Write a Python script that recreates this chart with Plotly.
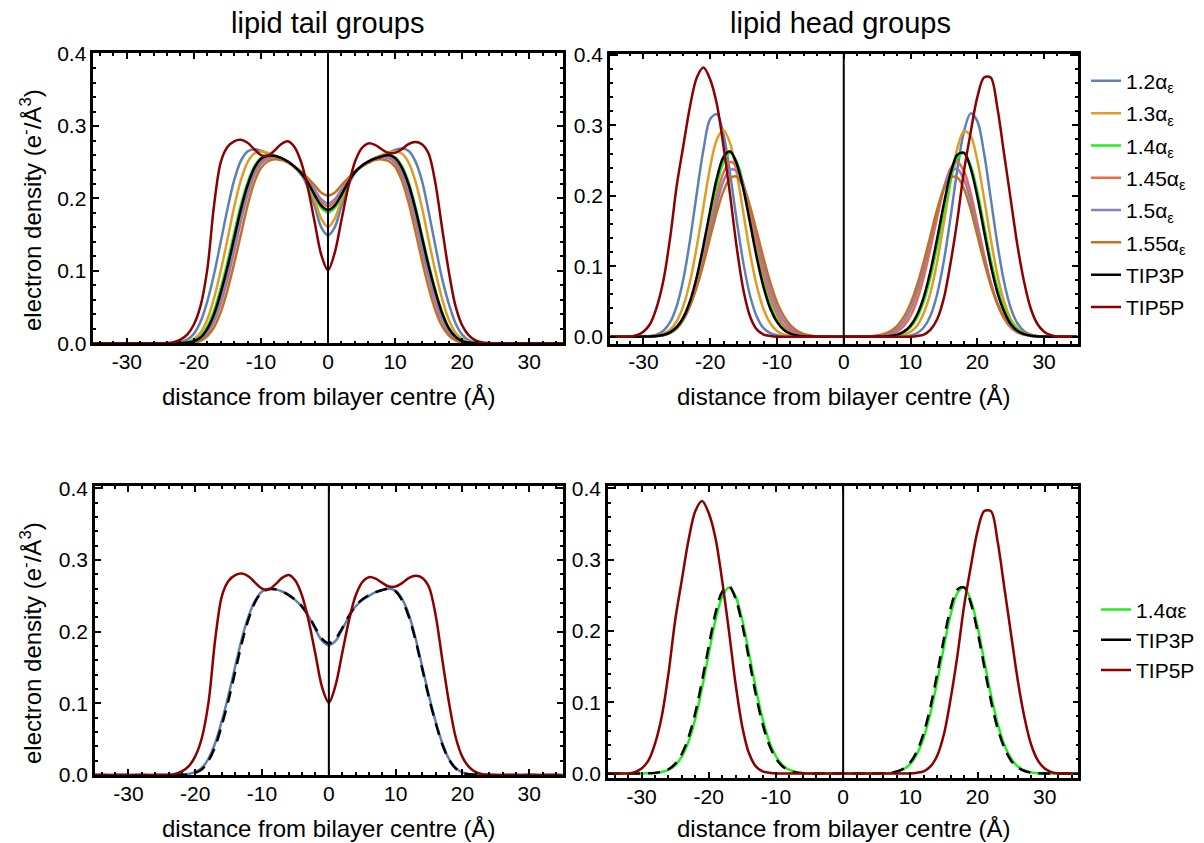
import plotly.graph_objects as go

# ---------------- data ----------------
TAIL_X = [-35] + list(range(-26, 27)) + [35]
HEAD_X = list(range(-35, 36))

SERIES = ["1.2αε", "1.3αε", "1.4αε", "1.45αε", "1.5αε", "1.55αε", "TIP3P", "TIP5P"]
LEGEND_TEXT = ["1.2α<sub>ε</sub>", "1.3α<sub>ε</sub>", "1.4α<sub>ε</sub>", "1.45α<sub>ε</sub>",
               "1.5α<sub>ε</sub>", "1.55α<sub>ε</sub>", "TIP3P", "TIP5P"]

tail_12 = [0, 0, 0, 0, 0.0005, 0.0015, 0.005, 0.013, 0.030, 0.058, 0.095, 0.140, 0.185, 0.225, 0.252, 0.265,
           0.268, 0.266, 0.262, 0.258, 0.255, 0.250, 0.243, 0.233, 0.216, 0.190, 0.160, 0.149, 0.160, 0.190,
           0.217, 0.235, 0.245, 0.251, 0.256, 0.259, 0.263, 0.267, 0.269, 0.266, 0.252, 0.225, 0.182, 0.135,
           0.090, 0.055, 0.028, 0.012, 0.004, 0.0012, 0.0003, 0, 0, 0, 0]
tail_13 = [0, 0, 0, 0, 0, 0.0005, 0.002, 0.006, 0.015, 0.033, 0.062, 0.100, 0.143, 0.188, 0.225, 0.250,
           0.262, 0.265, 0.263, 0.259, 0.255, 0.250, 0.243, 0.234, 0.219, 0.198, 0.172, 0.161, 0.172, 0.198,
           0.220, 0.236, 0.245, 0.251, 0.256, 0.260, 0.263, 0.265, 0.262, 0.250, 0.225, 0.188, 0.143, 0.100,
           0.062, 0.033, 0.015, 0.006, 0.002, 0.0005, 0, 0, 0, 0, 0]
tail_14 = [0, 0, 0, 0, 0.0001, 0.0004, 0.0015, 0.004, 0.010, 0.023, 0.045, 0.076, 0.112, 0.152, 0.191, 0.222,
           0.244, 0.256, 0.260, 0.259, 0.256, 0.251, 0.244, 0.234, 0.221, 0.203, 0.187, 0.181, 0.187, 0.203,
           0.221, 0.235, 0.244, 0.250, 0.255, 0.258, 0.260, 0.257, 0.245, 0.223, 0.190, 0.150, 0.110, 0.074,
           0.044, 0.022, 0.010, 0.0035, 0.001, 0.0003, 0, 0, 0, 0, 0]
tail_145 = [0, 0, 0, 0, 0, 0.0002, 0.0008, 0.0025, 0.007, 0.017, 0.035, 0.062, 0.096, 0.136, 0.177, 0.212,
            0.237, 0.251, 0.257, 0.258, 0.256, 0.251, 0.244, 0.235, 0.223, 0.208, 0.195, 0.189, 0.195, 0.208,
            0.224, 0.236, 0.245, 0.251, 0.255, 0.257, 0.258, 0.252, 0.238, 0.214, 0.180, 0.139, 0.099, 0.064,
            0.037, 0.018, 0.0075, 0.0027, 0.0008, 0.0002, 0, 0, 0, 0, 0]
tail_15 = [0, 0, 0, 0, 0, 0.0002, 0.0006, 0.002, 0.0055, 0.014, 0.030, 0.055, 0.088, 0.127, 0.168, 0.205,
           0.232, 0.248, 0.255, 0.257, 0.255, 0.251, 0.244, 0.236, 0.225, 0.212, 0.199, 0.193, 0.199, 0.212,
           0.225, 0.237, 0.245, 0.251, 0.255, 0.257, 0.256, 0.249, 0.233, 0.207, 0.171, 0.130, 0.091, 0.057,
           0.032, 0.015, 0.006, 0.002, 0.0006, 0.0002, 0, 0, 0, 0, 0]
tail_155 = [0, 0, 0, 0, 0, 0.0001, 0.0003, 0.001, 0.0035, 0.010, 0.022, 0.043, 0.073, 0.110, 0.150, 0.190,
            0.222, 0.242, 0.251, 0.254, 0.253, 0.250, 0.244, 0.237, 0.228, 0.218, 0.208, 0.204, 0.208, 0.218,
            0.228, 0.237, 0.244, 0.249, 0.253, 0.254, 0.252, 0.244, 0.225, 0.195, 0.156, 0.115, 0.077, 0.046,
            0.024, 0.011, 0.004, 0.0012, 0.0003, 0.0001, 0, 0, 0, 0, 0]
tail_tip3p = [0, 0, 0, 0, 0, 0.0003, 0.001, 0.003, 0.008, 0.020, 0.040, 0.070, 0.105, 0.145, 0.185, 0.218,
              0.242, 0.255, 0.259, 0.259, 0.256, 0.251, 0.244, 0.235, 0.222, 0.205, 0.190, 0.184, 0.190, 0.205,
              0.222, 0.236, 0.245, 0.251, 0.255, 0.258, 0.260, 0.256, 0.243, 0.220, 0.187, 0.147, 0.107, 0.072,
              0.042, 0.021, 0.009, 0.003, 0.001, 0.0003, 0, 0, 0, 0, 0]
tail_tip5p = [0, 0, 0, 0.0003, 0.0015, 0.005, 0.012, 0.026, 0.052, 0.102, 0.190, 0.250, 0.271, 0.279, 0.281,
              0.277, 0.268, 0.260, 0.259, 0.266, 0.275, 0.279, 0.271, 0.250, 0.214, 0.168, 0.122, 0.101, 0.125,
              0.170, 0.215, 0.250, 0.269, 0.276, 0.274, 0.268, 0.263, 0.263, 0.268, 0.275, 0.278, 0.275, 0.262,
              0.222, 0.160, 0.100, 0.052, 0.025, 0.011, 0.004, 0.0012, 0.0003, 0, 0, 0]

head_12 = [0, 0, 0, 0, 0, 0.0003, 0.001, 0.003, 0.0085, 0.0205, 0.0437, 0.0825, 0.138, 0.204, 0.266, 0.309,
           0.316, 0.287, 0.230, 0.163, 0.103, 0.057, 0.028, 0.012, 0.005, 0.002, 0.0007, 0.0002,
           0, 0, 0, 0, 0, 0, 0, 0, 0, 0, 0, 0, 0, 0, 0,
           0.0002, 0.0006, 0.0018, 0.0052, 0.0134, 0.030, 0.061, 0.108, 0.170, 0.237, 0.291, 0.317, 0.306,
           0.261, 0.197, 0.132, 0.078, 0.041, 0.019, 0.0077, 0.0028, 0.0009, 0.0003, 0, 0, 0, 0, 0]
head_13 = [0, 0, 0, 0, 0, 0.0002, 0.0005, 0.0014, 0.004, 0.0098, 0.022, 0.044, 0.079, 0.128, 0.185, 0.241,
           0.280, 0.293, 0.274, 0.231, 0.174, 0.117, 0.071, 0.039, 0.019, 0.008, 0.003, 0.001, 0.0003,
           0, 0, 0, 0, 0, 0, 0, 0, 0, 0, 0, 0, 0,
           0.0003, 0.0009, 0.0026, 0.0069, 0.016, 0.034, 0.063, 0.107, 0.162, 0.220, 0.267, 0.292, 0.285,
           0.250, 0.197, 0.139, 0.088, 0.050, 0.025, 0.0116, 0.0048, 0.0018, 0.0006, 0.0002, 0, 0, 0, 0, 0]
head_14 = [0, 0, 0, 0, 0, 0, 0.0002, 0.0007, 0.002, 0.005, 0.0115, 0.024, 0.045, 0.077, 0.120, 0.168,
           0.215, 0.248, 0.261, 0.248, 0.215, 0.168, 0.120, 0.077, 0.045, 0.024, 0.0115, 0.005, 0.002,
           0.0007, 0.0002,
           0, 0, 0, 0, 0, 0, 0, 0, 0,
           0.0001, 0.0003, 0.0009, 0.0024, 0.006, 0.0134, 0.0275, 0.0507, 0.0849, 0.129, 0.178, 0.223, 0.253,
           0.261, 0.243, 0.206, 0.158, 0.110, 0.070, 0.040, 0.021, 0.0098, 0.0042, 0.0016, 0.0005, 0.0001,
           0, 0, 0, 0, 0]
head_145 = [0, 0, 0, 0, 0, 0.0001, 0.0003, 0.0009, 0.0024, 0.0057, 0.0124, 0.0246, 0.0448, 0.074, 0.113,
            0.157, 0.200, 0.233, 0.248, 0.241, 0.215, 0.175, 0.130, 0.089, 0.055, 0.032, 0.016, 0.0078,
            0.0034, 0.0013, 0.0005, 0.0001,
            0, 0, 0, 0, 0, 0, 0,
            0.0001, 0.0004, 0.0012, 0.0031, 0.0072, 0.0153, 0.0296, 0.0524, 0.085, 0.126, 0.170, 0.211, 0.239,
            0.248, 0.235, 0.204, 0.161, 0.117, 0.078, 0.047, 0.026, 0.013, 0.0061, 0.0026, 0.001, 0.0004,
            0.0001, 0, 0, 0, 0, 0]
head_15 = [0, 0, 0, 0, 0, 0.0001, 0.0004, 0.0012, 0.0029, 0.0065, 0.0134, 0.0255, 0.045, 0.073, 0.108,
           0.149, 0.189, 0.221, 0.237, 0.235, 0.215, 0.181, 0.141, 0.101, 0.066, 0.040, 0.0226, 0.0117,
           0.0056, 0.0024, 0.001, 0.0004, 0.0001,
           0, 0, 0, 0, 0,
           0.0001, 0.0003, 0.0009, 0.0022, 0.0051, 0.0109, 0.0213, 0.0383, 0.0635, 0.097, 0.137, 0.178, 0.212,
           0.234, 0.238, 0.223, 0.193, 0.153, 0.112, 0.076, 0.047, 0.027, 0.0144, 0.007, 0.0032, 0.0013,
           0.0005, 0.0002, 0, 0, 0, 0, 0]
head_155 = [0, 0, 0, 0, 0.0001, 0.0002, 0.0006, 0.0015, 0.0034, 0.0073, 0.0144, 0.0263, 0.0447, 0.0707,
            0.1035, 0.141, 0.177, 0.207, 0.225, 0.227, 0.212, 0.184, 0.148, 0.111, 0.077, 0.049, 0.0296,
            0.0164, 0.0084, 0.004, 0.0018, 0.0007, 0.0003, 0.0001,
            0, 0, 0,
            0.0001, 0.0003, 0.0007, 0.0016, 0.0037, 0.0078, 0.0153, 0.0279, 0.047, 0.0737, 0.107, 0.144, 0.181,
            0.210, 0.226, 0.226, 0.210, 0.181, 0.144, 0.107, 0.0737, 0.047, 0.0279, 0.0153, 0.0078, 0.0037,
            0.0016, 0.0007, 0.0003, 0.0001, 0, 0, 0, 0]
head_tip3p = [0, 0, 0, 0, 0, 0.0001, 0.0003, 0.0009, 0.0024, 0.006, 0.0135, 0.0277, 0.051, 0.0855, 0.130,
              0.179, 0.225, 0.255, 0.263, 0.245, 0.208, 0.160, 0.111, 0.070, 0.040, 0.021, 0.0099, 0.0042,
              0.0016, 0.0005, 0.0001,
              0, 0, 0, 0, 0, 0, 0, 0, 0,
              0.0001, 0.0004, 0.0011, 0.0029, 0.0071, 0.0157, 0.0315, 0.057, 0.094, 0.140, 0.189, 0.232, 0.258,
              0.261, 0.239, 0.199, 0.150, 0.102, 0.063, 0.036, 0.018, 0.0084, 0.0035, 0.0013, 0.0004, 0.0001,
              0, 0, 0, 0, 0]
head_tip5p = [0, 0, 0, 0, 0.002, 0.007, 0.018, 0.042, 0.080, 0.140, 0.215, 0.272, 0.328, 0.368, 0.382,
              0.365, 0.330, 0.270, 0.200, 0.125, 0.065, 0.028, 0.010, 0.003, 0.001,
              0, 0, 0, 0, 0, 0, 0, 0, 0, 0, 0, 0, 0, 0, 0, 0, 0, 0, 0, 0, 0,
              0.001, 0.003, 0.010, 0.025, 0.055, 0.105, 0.165, 0.235, 0.290, 0.340, 0.368, 0.368, 0.325,
              0.260, 0.195, 0.130, 0.078, 0.040, 0.018, 0.007, 0.002, 0, 0, 0, 0]

TAILS = [tail_12, tail_13, tail_14, tail_145, tail_15, tail_155, tail_tip3p, tail_tip5p]
HEADS = [head_12, head_13, head_14, head_145, head_15, head_155, head_tip3p, head_tip5p]
for arr in TAILS:
    assert len(arr) == len(TAIL_X), len(arr)
for arr in HEADS:
    assert len(arr) == len(HEAD_X), len(arr)

X_TICKS = [-30, -20, -10, 0, 10, 20, 30]
X_TICK_LABELS = ["-30", "-20", "-10", "0", "10", "20", "30"]
Y_TICKS = [0.0, 0.1, 0.2, 0.3, 0.4]
Y_TICK_LABELS = ["0.0", "0.1", "0.2", "0.3", "0.4"]

COLORS = ["#5E81B5", "#E19C24", "#1EF01E", "#EE6A43", "#8F7EBF", "#C5701E", "#000000", "#8B0000"]

# ---------------- figure ----------------
# the page body adds an 8px offset, so the figure is drawn 8px smaller and all
# reference-pixel positions are shifted by OFF
OFF = 8
W, H = 1204 - OFF, 843 - OFF
FONT = "Liberation Sans, Arial, Helvetica, sans-serif"
LW = 2.5


def fx(p):
    return (p - OFF) / W


def fy(p):
    return 1 - (p - OFF) / H


def dx(a, b):
    return [fx(a), fx(b)]


def dy(top, bottom):
    return [fy(bottom), fy(top)]


fig = go.Figure()

# top-left: tails
for i in range(8):
    fig.add_trace(go.Scatter(x=TAIL_X, y=TAILS[i], mode="lines", name=SERIES[i], showlegend=False,
                             line=dict(color=COLORS[i], width=LW, shape="spline", smoothing=0.9),
                             xaxis="x", yaxis="y", hoverinfo="skip"))
# top-right: heads (with legend)
for i in range(8):
    fig.add_trace(go.Scatter(x=HEAD_X, y=HEADS[i], mode="lines", name=LEGEND_TEXT[i], showlegend=True,
                             legend="legend", legendgroup="g%d" % i,
                             line=dict(color=COLORS[i], width=LW, shape="spline", smoothing=0.9),
                             xaxis="x2", yaxis="y2", hoverinfo="skip"))

# bottom-left
fig.add_trace(go.Scatter(x=TAIL_X, y=tail_14, mode="lines", showlegend=False,
                         line=dict(color=COLORS[0], width=LW, shape="spline", smoothing=0.9),
                         xaxis="x3", yaxis="y3", hoverinfo="skip"))
fig.add_trace(go.Scatter(x=TAIL_X, y=tail_tip3p, mode="lines", showlegend=False,
                         line=dict(color="black", width=LW, shape="spline", smoothing=0.9, dash="12px,8px"),
                         xaxis="x3", yaxis="y3", hoverinfo="skip"))
fig.add_trace(go.Scatter(x=TAIL_X, y=tail_tip5p, mode="lines", showlegend=False,
                         line=dict(color=COLORS[7], width=LW, shape="spline", smoothing=0.9),
                         xaxis="x3", yaxis="y3", hoverinfo="skip"))
# bottom-right
fig.add_trace(go.Scatter(x=HEAD_X, y=head_14, mode="lines", showlegend=False,
                         line=dict(color=COLORS[2], width=LW, shape="spline", smoothing=0.9),
                         xaxis="x4", yaxis="y4", hoverinfo="skip"))
fig.add_trace(go.Scatter(x=HEAD_X, y=head_tip3p, mode="lines", showlegend=False,
                         line=dict(color="black", width=LW, shape="spline", smoothing=0.9, dash="12px,8px"),
                         xaxis="x4", yaxis="y4", hoverinfo="skip"))
fig.add_trace(go.Scatter(x=HEAD_X, y=head_tip5p, mode="lines", showlegend=False,
                         line=dict(color=COLORS[7], width=LW, shape="spline", smoothing=0.9),
                         xaxis="x4", yaxis="y4", hoverinfo="skip"))
# legend-only entries for the lower legend
for name, col, g in [("1.4αε", COLORS[2], "b0"), ("TIP3P", "black", "b1"), ("TIP5P", COLORS[7], "b2")]:
    fig.add_trace(go.Scatter(x=[None], y=[None], mode="lines", name=name, legend="legend2", legendgroup=g,
                             line=dict(color=col, width=LW), xaxis="x4", yaxis="y4"))

tickfont = dict(family=FONT, size=21, color="black")


def xax(domain, anchor):
    return dict(domain=domain, anchor=anchor, range=[-35, 35], tickmode="array", tickvals=X_TICKS,
                ticktext=X_TICK_LABELS, showline=True, linecolor="black", linewidth=2.5, mirror="allticks",
                ticks="inside", ticklen=6, tickwidth=2, tickcolor="black", showgrid=False, zeroline=False,
                tickfont=tickfont, ticklabelstandoff=-2,
                minor=dict(tick0=0, dtick=2, ticks="inside", ticklen=3, tickwidth=2, tickcolor="black",
                           showgrid=False))


def yax(domain, anchor, rng):
    return dict(domain=domain, anchor=anchor, range=rng, tickmode="array", tickvals=Y_TICKS,
                ticktext=Y_TICK_LABELS, showline=True, linecolor="black", linewidth=2.5, mirror="allticks",
                ticks="inside", ticklen=6, tickwidth=2, tickcolor="black", showgrid=False, zeroline=False,
                tickfont=tickfont, ticklabelstandoff=0,
                minor=dict(tick0=0, dtick=0.02, ticks="inside", ticklen=3, tickwidth=2, tickcolor="black",
                           showgrid=False))


fig.update_layout(
    width=W, height=H, margin=dict(l=0, r=0, t=0, b=0, autoexpand=False),
    paper_bgcolor="white", plot_bgcolor="white",
    font=dict(family=FONT, color="black"),
    xaxis=xax(dx(93.3, 562.7), "y"), yaxis=yax(dy(53.3, 343.3), "x", [0, 0.4005]),
    xaxis2=xax(dx(610, 1077.5), "y2"), yaxis2=yax(dy(53.5, 343.5), "x2", [-0.0097, 0.402]),
    xaxis3=xax(dx(95, 562.7), "y3"), yaxis3=yax(dy(486, 775), "x3", [0, 0.4032]),
    xaxis4=xax(dx(608, 1078.3), "y4"), yaxis4=yax(dy(486, 778), "x4", [-0.0063, 0.4032]),
    legend=dict(x=1078 / W, xanchor="left", y=1 - 52.7 / H, yanchor="top", font=dict(family=FONT, size=21),
                bgcolor="rgba(0,0,0,0)", tracegroupgap=2, traceorder="grouped"),
    legend2=dict(x=1088 / W, xanchor="left", y=1 - 581.3 / H, yanchor="top", font=dict(family=FONT, size=21),
                 bgcolor="rgba(0,0,0,0)", tracegroupgap=0, traceorder="grouped"),
    showlegend=True,
)

# vertical line at x = 0 in every panel
for xr, yr in [("x", "y"), ("x2", "y2"), ("x3", "y3"), ("x4", "y4")]:
    fig.add_shape(type="line", xref=xr, yref=yr + " domain", x0=0, x1=0, y0=0, y1=1,
                  line=dict(color="black", width=2), layer="above")

ann = []
for txt, cx in [("lipid tail groups", 327), ("lipid head groups", 840)]:
    ann.append(dict(text=txt, x=fx(cx), y=fy(23), xref="paper", yref="paper", showarrow=False,
                    xanchor="center", yanchor="middle", font=dict(family=FONT, size=29, color="black")))
for cx, cy in [(328, 396), (843.7, 396), (328.8, 828), (843, 828)]:
    ann.append(dict(text="distance from bilayer centre (Å)", x=fx(cx), y=fy(cy), xref="paper",
                    yref="paper", showarrow=False, xanchor="center", yanchor="middle",
                    font=dict(family=FONT, size=24, color="black")))
for cy in [210, 643]:
    ann.append(dict(text="electron density (e<sup>-</sup>/Å<sup>3</sup>)", x=fx(31), y=fy(cy),
                    xref="paper", yref="paper", showarrow=False, textangle=-90, xanchor="center",
                    yanchor="middle", font=dict(family=FONT, size=24, color="black")))
fig.update_layout(annotations=ann)

fig.write_html("out.html")
